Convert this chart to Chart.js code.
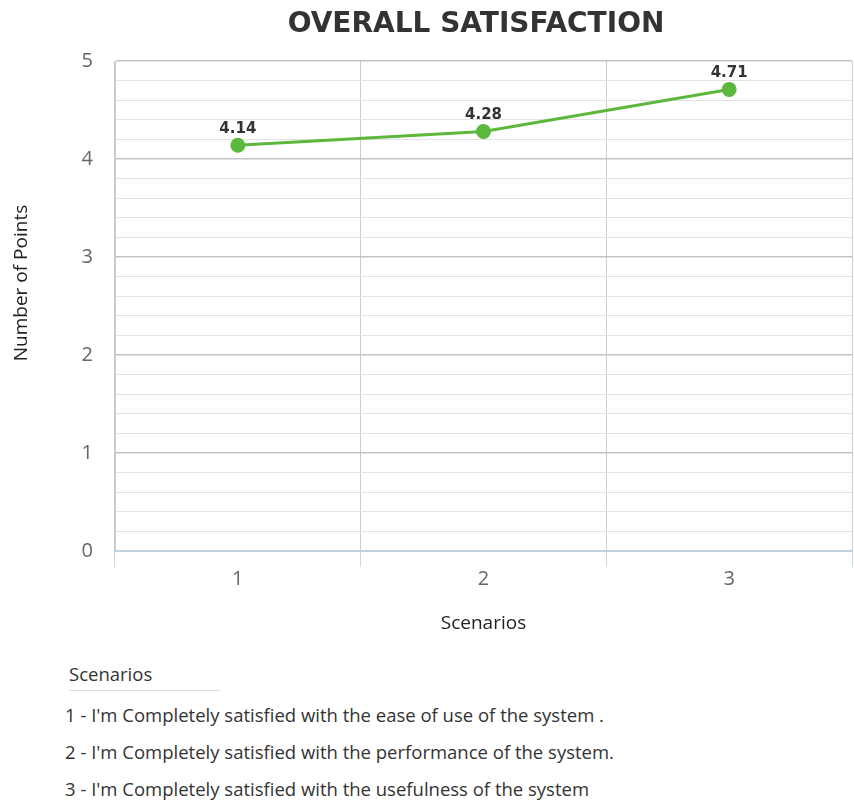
<!DOCTYPE html>
<html>
<head>
<meta charset="utf-8">
<script src="https://cdn.jsdelivr.net/npm/chart.js@4/dist/chart.umd.min.js"></script>
<style>
  body { margin: 0; background: #fff; font-family: "Open Sans", sans-serif; }
  #wrap { position: relative; width: 854px; height: 645px; }
  #wrap h1 { position: absolute; top: 0; left: 0; width: 952px; margin: 0; text-align: center;
             font: bold 28px "DejaVu Sans"; color: #333; line-height: 46px; }
  .legend { margin-left: 65px; color: #333; font-size: 18.5px; }
  .legend h4 { font-weight: normal; margin: 16px 0 0 4px; padding-bottom: 4px; width: 151px; border-bottom: 1px solid #ddd; font-size: 18.5px; }
  .legend p { margin: 0; line-height: 37px; }
  .legend p:first-of-type { margin-top: 5px; }
</style>
</head>
<body>
<div id="wrap"><h1>OVERALL SATISFACTION</h1><canvas id="chart"></canvas></div>
<div class="legend">
  <h4>Scenarios</h4>
  <p>1 - I'm Completely satisfied with the ease of use of the system .</p>
  <p>2 - I'm Completely satisfied with the performance of the system.</p>
  <p>3 - I'm Completely satisfied with the usefulness of the system</p>
</div>
<script>
var scenarios = ['1', '2', '3'];
var scores = [4.14, 4.28, 4.71];
var yTicks = [0, 1, 2, 3, 4, 5];

// values above the points, plus the rotated y title
var extras = {
  id: 'extras',
  afterDraw: function(chart) {
    var ctx = chart.ctx;
    var meta = chart.getDatasetMeta(0);
    ctx.save();
    ctx.font = 'bold 15px "DejaVu Sans"';
    ctx.fillStyle = '#333';
    ctx.textAlign = 'center';
    ctx.textBaseline = 'middle';
    meta.data.forEach(function(pt, i) {
      ctx.fillText(scores[i].toFixed(2), pt.x, pt.y - 16);
    });
    ctx.translate(22, chart.chartArea.top + 222);
    ctx.rotate(-Math.PI / 2);
    ctx.font = '19px "Open Sans"';
    ctx.fillStyle = '#222';
    ctx.fillText('Number of Points', 0, 0);
    ctx.restore();
  }
};

function isMajor(v) {
  return yTicks.indexOf(Math.round(v * 1000) / 1000) !== -1;
}

new Chart(document.getElementById('chart'), {
  type: 'line',
  data: {
    labels: scenarios,
    datasets: [{
      data: scores,
      borderColor: '#5cb83c',
      backgroundColor: '#5cb83c',
      borderWidth: 3,
      pointRadius: 6,
      pointHoverRadius: 6,
      tension: 0
    }]
  },
  options: {
    responsive: true,
    maintainAspectRatio: false,
    animation: false,
    layout: { autoPadding: false, padding: { top: 61, right: 2, bottom: 6, left: 0 } },
    plugins: {
      legend: { display: false },
      tooltip: { enabled: false }
    },
    scales: {
      x: {
        offset: true,
        grid: {
          offset: true,
          color: '#ccc',
          tickColor: '#c8d6e5',
          tickLength: 16,
          lineWidth: 1
        },
        border: { color: '#c0d0e0', width: 2 },
        ticks: {
          color: '#666',
          font: { family: 'Open Sans', size: 20 },
          padding: 0
        },
        title: {
          display: true,
          text: 'Scenarios',
          color: '#222',
          font: { family: 'Open Sans', size: 19 },
          padding: { top: 8 }
        },
        afterFit: function(scale) {
          scale.height = 88;
          scale.paddingLeft = 0;
          scale.paddingRight = 0;
        }
      },
      y: {
        min: 0,
        max: 5,
        ticks: {
          stepSize: 0.2,
          autoSkip: false,
          color: '#666',
          padding: 22,
          font: { family: 'Open Sans', size: 20 },
          callback: function(v) { return isMajor(v) ? Math.round(v) : ''; }
        },
        grid: {
          drawTicks: false,
          color: function(c) { return isMajor(c.tick.value) ? '#c4c4c4' : '#e3e3e3'; },
          lineWidth: function(c) { return isMajor(c.tick.value) ? 1.5 : 1; }
        },
        border: { color: '#ccc' },
        afterFit: function(scale) {
          scale.width = 115;
          scale.paddingTop = 0;
          scale.paddingBottom = 0;
        }
      }
    }
  },
  plugins: [extras]
});
</script>
</body>
</html>
